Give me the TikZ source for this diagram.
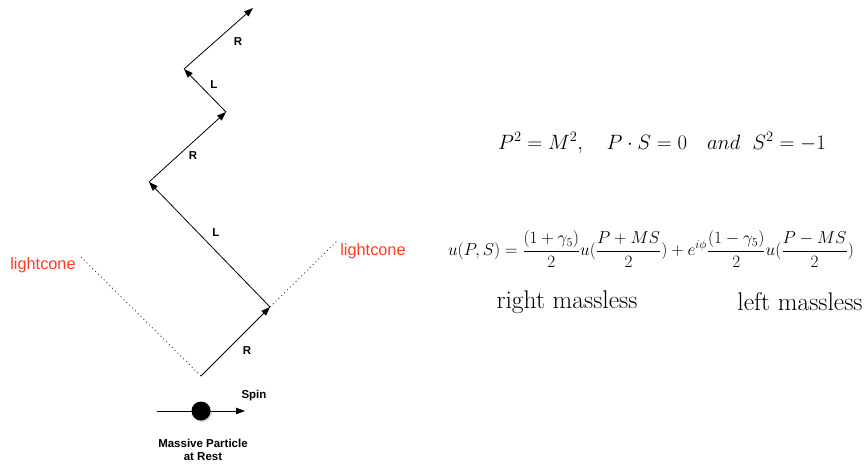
\documentclass[tikz,border=0pt]{standalone}
\usepackage{fontspec}
\newfontfamily\helv{Liberation Sans}
\usetikzlibrary{arrows.meta,shadows}
\definecolor{conered}{RGB}{255,59,35}

\begin{document}
\begin{tikzpicture}[
  x=1pt,y=-1pt,
  hv/.tip={Triangle[length=9pt,width=6.5pt]},
  vec/.style={-hv,line width=0.8pt},
  cone/.style={dash pattern=on 1pt off 3pt,line width=0.9pt,black!75},
  lab/.style={font=\helv\bfseries\fontsize{11.5}{13.5}\selectfont,inner sep=0pt},
  conelab/.style={font=\helv\fontsize{16.3}{19}\selectfont,text=conered,inner sep=0pt},
  eq/.style={inner sep=0pt}
]
  \useasboundingbox (0,0) rectangle (868,466);

  % world line of the particle
  \coordinate (O) at (201,376);
  \coordinate (A) at (270,307);
  \coordinate (B) at (149,182);
  \coordinate (C) at (226,112);
  \coordinate (D) at (184,69);
  \coordinate (E) at (253,8);

  % light cone
  \coordinate (lcL) at (80,256);
  \coordinate (lcR) at (337,241);
  \draw[cone] (O) -- (lcL);
  \draw[cone] (A) -- (lcR);
  \node[conelab] (coneL) at (43,265) {lightcone};
  \node[conelab] (coneR) at (373,251) {lightcone};

  \draw[vec] (O) -- (A);
  \draw[vec] (A) -- (B);
  \draw[vec] (B) -- (C);
  \draw[vec] (C) -- (D);
  \draw[vec] (D) -- (E);
  \node[lab] (r1) at (247,351) {R};
  \node[lab] (l1) at (216,233) {L};
  \node[lab] (r2) at (193,156) {R};
  \node[lab] (l2) at (214,85) {L};
  \node[lab] (r3) at (238,42) {R};

  % particle at rest
  \coordinate (spinT) at (157,411);
  \coordinate (spinH) at (245,411);
  \draw[vec] (spinT) -- (spinH);
  \node[circle,fill=black,minimum size=19pt,inner sep=0pt,
        drop shadow={shadow xshift=1.5pt,shadow yshift=-1.5pt,opacity=0.3}] (ball) at (201,411) {};
  \node[lab] (spin) at (254,396) {Spin};
  \node[lab,align=center] (rest) at (203,450) {Massive Particle\\at Rest};

  % formulas
  \node[eq,font=\fontsize{20}{24}\selectfont] (cond) at (662,143)
    {$P^2=M^2,\quad P\cdot S=0\quad and\ \ S^2=-1$};
  \node[eq,font=\fontsize{16.4}{19}\selectfont] (spinor) at (651,249)
    {$\displaystyle u(P,S)=\frac{(1+\gamma_5)}{2}u(\frac{P+MS}{2})+e^{i\phi}\frac{(1-\gamma_5)}{2}u(\frac{P-MS}{2})$};
  \node[eq,font=\fontsize{25.5}{30}\selectfont] (rml) at (567,302) {right massless};
  \node[eq,font=\fontsize{25.5}{30}\selectfont] (lml) at (800,302) {left massless};
\end{tikzpicture}
\end{document}
